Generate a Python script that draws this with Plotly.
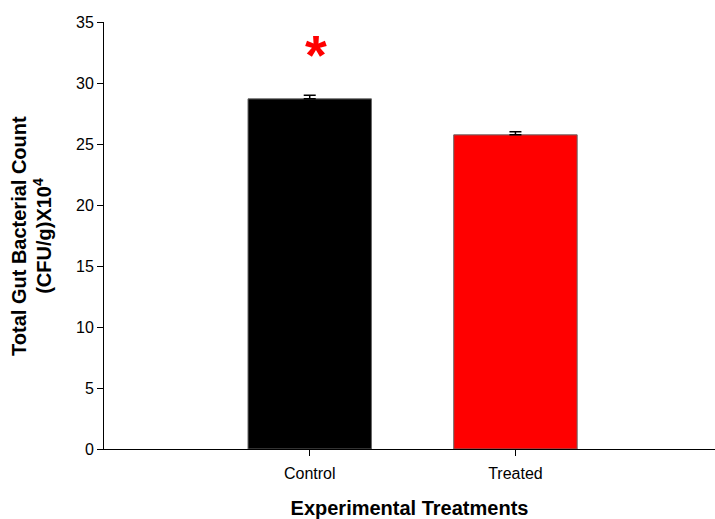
import plotly.graph_objects as go

categories = ["Control", "Treated"]
means = [28.7, 25.75]
errors = [0.3, 0.25]
bar_colors = ["#000000", "#ff0000"]
significance = ["*", ""]

fig = go.Figure()
fig.add_trace(go.Bar(
    x=categories,
    y=means,
    width=0.6,
    marker=dict(color=bar_colors, line=dict(color="#666666", width=1)),
    error_y=dict(type="data", array=errors, symmetric=False, arrayminus=[0, 0],
                 color="#000000", thickness=1.5, width=6),
    showlegend=False,
))

# significance marker above the control bar
for cat, m, e, s in zip(categories, means, errors, significance):
    if s:
        fig.add_annotation(x=cat, y=m + e + 3.3, text="<b>" + s + "</b>", showarrow=False,
                           font=dict(family="Arial", size=56, color="#ff0000"),
                           xshift=6)

# two-line y-axis title
fig.add_annotation(xref="paper", yref="paper", x=-0.140, y=0.50, textangle=-90,
                   text="<b>Total Gut Bacterial Count</b>", showarrow=False,
                   xanchor="center", yanchor="middle",
                   font=dict(family="Arial", size=20, color="#000000"))
fig.add_annotation(xref="paper", yref="paper", x=-0.101, y=0.50, textangle=-90,
                   text="<b>(CFU/g)X10<sup>4</sup></b>", showarrow=False,
                   xanchor="center", yanchor="middle",
                   font=dict(family="Arial", size=20, color="#000000"))

fig.update_layout(
    width=715, height=519,
    margin=dict(l=104, r=0, t=22, b=70),
    plot_bgcolor="white", paper_bgcolor="white",
    font=dict(family="Arial", size=16, color="#000000"),
)
fig.update_xaxes(
    range=[-1, 1.97], showline=True, linecolor="#000000", linewidth=1,
    ticks="outside", ticklen=6, tickcolor="#000000", showgrid=False,
    ticklabelstandoff=4,
    title=dict(text="<b>Experimental Treatments</b>", font=dict(size=20), standoff=22),
)
fig.update_yaxes(
    range=[0, 35], dtick=5, showline=True, linecolor="#000000", linewidth=1,
    ticks="outside", ticklen=6, tickcolor="#000000", showgrid=False, zeroline=False,
)

fig.write_html("out.html")
